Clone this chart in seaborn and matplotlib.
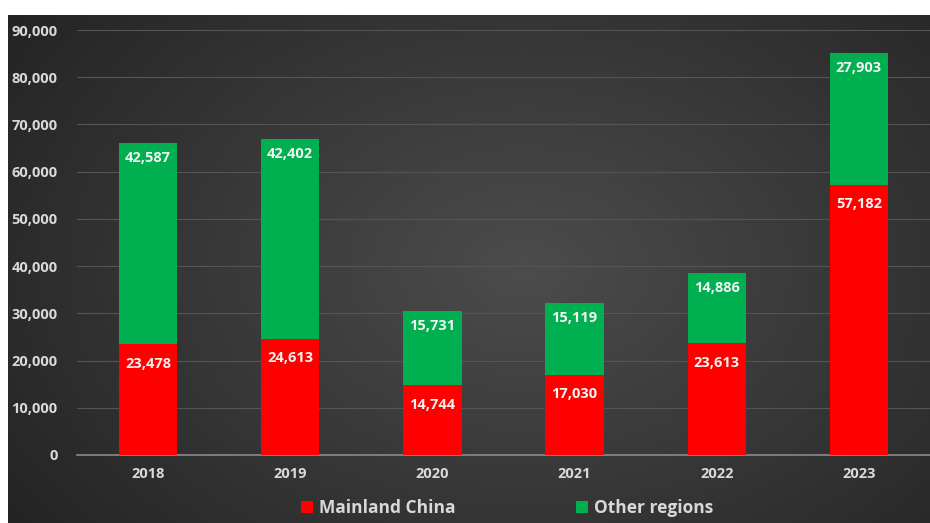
import numpy as np
import pandas as pd
import matplotlib
matplotlib.use("Agg")
import matplotlib.pyplot as plt
from matplotlib.patches import Patch
import seaborn as sns

years = ["2018", "2019", "2020", "2021", "2022", "2023"]
mainland = [23478, 24613, 14744, 17030, 23613, 57182]
other = [42587, 42402, 15731, 15119, 14886, 27903]
series_names = ["Mainland China", "Other regions"]
series_colors = ["#FF0000", "#00B050"]
y_ticks = [0, 10000, 20000, 30000, 40000, 50000, 60000, 70000, 80000, 90000]

sns.set_theme(style="dark")
plt.rcParams["font.family"] = ["Open Sans", "DejaVu Sans"]

W, H = 930, 523
fig = plt.figure(figsize=(W / 100, H / 100), dpi=100)
fig.patch.set_facecolor("white")

# dark radial-gradient backdrop
bg = fig.add_axes([8 / W, 0, 1 - 8 / W, 1 - 15 / H], zorder=0)
gx, gy = np.meshgrid(np.linspace(0, 1, 400), np.linspace(0, 1, 240))
r = np.sqrt(((gx - 0.56) / 0.72) ** 2 + ((gy - 0.5) / 0.9) ** 2)
r = np.clip(r, 0, 1)
inner, outer = np.array([0x4c, 0x4c, 0x4c]) / 255, np.array([0x22, 0x22, 0x22]) / 255
img = inner[None, None, :] * (1 - r[..., None]) + outer[None, None, :] * r[..., None]
bg.imshow(img, aspect="auto", extent=[0, 1, 0, 1], origin="upper")
bg.set_axis_off()

ax = fig.add_axes([77 / W, 1 - 455 / H, 1 - 77 / W, (455 - 30) / H], zorder=1)
ax.set_facecolor("none")

df = pd.DataFrame({"year": years, "mainland": mainland, "other": other})
sns.barplot(data=df, x="year", y="mainland", color=series_colors[0],
            width=0.41, saturation=1, ax=ax, zorder=3, edgecolor="none", linewidth=0)
sns.barplot(data=df, x="year", y="other", color=series_colors[1],
            width=0.41, saturation=1, ax=ax, bottom=df["mainland"], zorder=3,
            edgecolor="none", linewidth=0)

ax.set_xlim(-0.5, 5.5)
ax.set_ylim(0, 90000)
ax.set_yticks(y_ticks)
ax.set_yticklabels([f"{v:,}" for v in y_ticks])
ax.set_xlabel("")
ax.set_ylabel("")
ax.grid(axis="y", color="#555555", linewidth=0.8, zorder=0)
ax.grid(axis="x", visible=False)
for s in ["top", "right", "left"]:
    ax.spines[s].set_visible(False)
ax.spines["bottom"].set_color("#8a8a8a")
ax.spines["bottom"].set_linewidth(1.2)
ax.tick_params(axis="both", length=0, colors="#d9d9d9", labelsize=10.5)
ax.tick_params(axis="y", pad=14)
ax.tick_params(axis="x", pad=9)
for t in ax.get_xticklabels() + ax.get_yticklabels():
    t.set_fontweight("bold")

for i in range(len(years)):
    ax.annotate(f"{mainland[i]:,}", (i, mainland[i]), xytext=(0, -14),
                textcoords="offset points", ha="center", va="center",
                color="#F2F2F2", fontsize=10.5, fontweight="bold", zorder=5)
    top = mainland[i] + other[i]
    ax.annotate(f"{other[i]:,}", (i, top), xytext=(0, -11),
                textcoords="offset points", ha="center", va="center",
                color="#F2F2F2", fontsize=10.5, fontweight="bold", zorder=5)

handles = [Patch(facecolor=c, edgecolor="none") for c in series_colors]
leg = fig.legend(handles, series_names, loc="center", bbox_to_anchor=(507 / W, 1 - 508 / H),
                 ncol=2, frameon=False, handlelength=0.7, handleheight=0.7,
                 handletextpad=0.35, columnspacing=6.9,
                 prop={"weight": "bold", "size": 12.5})
for t in leg.get_texts():
    t.set_color("#d9d9d9")

fig.savefig("out.png", dpi=100)
